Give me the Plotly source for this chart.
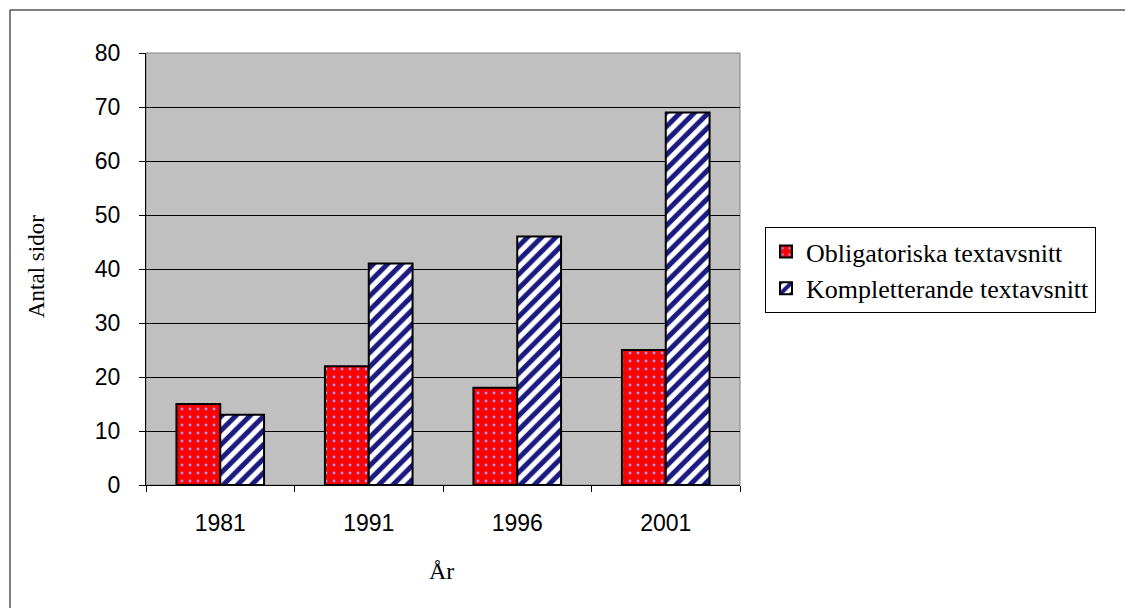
import plotly.graph_objects as go

years = ["1981", "1991", "1996", "2001"]
obligatoriska = [15, 22, 18, 25]
kompletterande = [13, 41, 46, 69]
series_names = ["Obligatoriska textavsnitt", "Kompletterande textavsnitt"]
y_ticks = [0, 10, 20, 30, 40, 50, 60, 70, 80]

W, H = 1125, 608
L, R, T, B = 146, 740, 53, 485
pw, ph = R - L, B - T

def px(x):
    return (x - L) / pw

def py(y):
    return (B - y) / ph

fig = go.Figure()
fig.add_trace(go.Bar(
    x=years, y=obligatoriska, name=series_names[0],
    marker=dict(color="#FF0000", line=dict(color="black", width=2),
                pattern=dict(shape=".", fgcolor="#9999FF", bgcolor="#FF0000", fgopacity=1,
                             size=8, solidity=0.1)),
))
fig.add_trace(go.Bar(
    x=years, y=kompletterande, name=series_names[1],
    marker=dict(color="white", line=dict(color="black", width=2),
                pattern=dict(shape="/", fgcolor="#1A1A80", bgcolor="white", fgopacity=1,
                             size=10, solidity=0.5)),
))

fig.update_layout(
    width=W, height=H,
    margin=dict(l=L, r=W - R, t=T, b=H - B, pad=0),
    paper_bgcolor="white", plot_bgcolor="#C0C0C0",
    barmode="group", bargap=0.41, bargroupgap=0,
    showlegend=True,
    legend=dict(x=px(765), y=py(227), xanchor="left", yanchor="top",
                bordercolor="black", borderwidth=1, bgcolor="white",
                font=dict(family="Liberation Serif", size=26, color="black"),
                tracegroupgap=4, itemwidth=30),
    xaxis=dict(type="category", tickson="boundaries", ticks="outside", ticklen=6,
               tickcolor="black", showline=True, linecolor="black", linewidth=1,
               ticklabelstandoff=17,
               tickfont=dict(family="Liberation Sans", size=23, color="black"),
               showgrid=False, zeroline=False),
    yaxis=dict(range=[0, 80], tickvals=y_ticks, ticks="outside", ticklen=6,
               tickcolor="black", showline=True, linecolor="black", linewidth=1,
               ticklabelstandoff=14,
               showgrid=True, gridcolor="black", gridwidth=1, zeroline=False,
               tickfont=dict(family="Liberation Sans", size=23, color="black")),
    shapes=[
        dict(type="rect", xref="paper", yref="paper", x0=0, x1=1, y0=0, y1=1,
             line=dict(color="#808080", width=1), layer="below"),
        dict(type="rect", xref="paper", yref="paper", x0=px(10), x1=px(1135), y0=py(640), y1=py(10),
             line=dict(color="black", width=1), layer="below"),
    ],
    annotations=[
        dict(text="Antal sidor", xref="paper", yref="paper", x=px(36), y=py(267), textangle=-90,
             xanchor="center", yanchor="middle",
             showarrow=False, font=dict(family="Liberation Serif", size=23, color="black")),
        dict(text="År", xref="paper", yref="paper", x=px(441), y=py(571),
             xanchor="center", yanchor="middle",
             showarrow=False, font=dict(family="Liberation Serif", size=24, color="black")),
    ],
)

fig.write_html("out.html", config={"displayModeBar": False},
               post_script="document.body.style.margin='0px';document.body.style.overflow='hidden';")
